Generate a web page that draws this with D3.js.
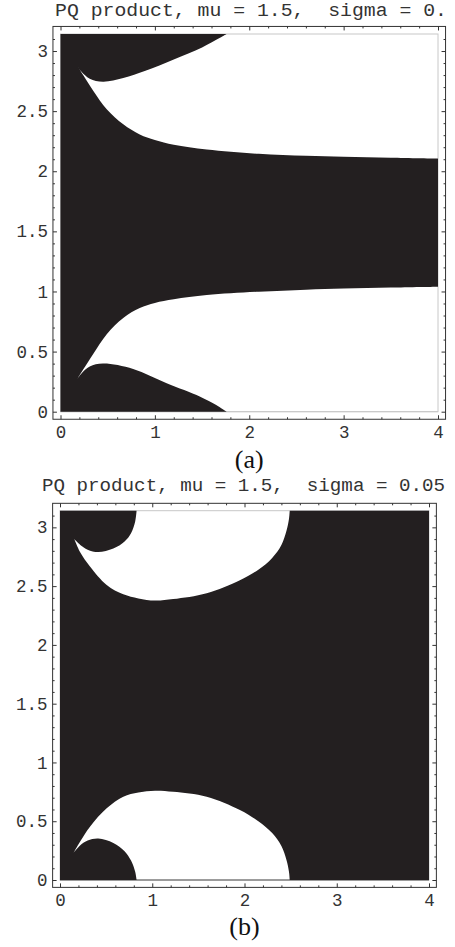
<!DOCTYPE html>
<html><head><meta charset="utf-8">
<script src="https://cdn.jsdelivr.net/npm/d3@7"></script>
<style>body{margin:0;background:#fff}svg{display:block}</style>
</head><body>
<script>
// ---------- data ----------
const titles = ["PQ product, mu = 1.5,  sigma = 0.", "PQ product, mu = 1.5,  sigma = 0.05"];
const captions = ["(a)", "(b)"];
const xMajor = [0, 1, 2, 3, 4];
const yMajor = [0, 0.5, 1, 1.5, 2, 2.5, 3];
const xDomain = [0, 4];
const yDomain = [0, Math.PI];

// panel (a): white holes in the black region
const aBandUpper = [[0.18,2.875],[0.24,2.80],[0.35,2.665],[0.49,2.515],[0.665,2.39],[0.84,2.305],[1.0,2.26],[1.2,2.22],[1.55,2.18],[2.1,2.145],[2.6,2.128],[3.0,2.12],[3.5,2.112],[4.0,2.105]];
const aHornUpper = [[1.76,3.1416],[1.69,3.11],[1.50,3.03],[1.2,2.93],[0.9,2.835],[0.665,2.775],[0.45,2.745],[0.31,2.77],[0.22,2.83],[0.18,2.875]];
const aBandLower = [[0.178,0.272],[0.24,0.35],[0.35,0.485],[0.49,0.645],[0.665,0.78],[0.84,0.862],[1.0,0.905],[1.2,0.935],[1.55,0.97],[2.1,0.998],[2.6,1.015],[3.0,1.025],[3.5,1.033],[4.0,1.04]];
const aHornLower = [[1.76,0],[1.65,0.056],[1.48,0.125],[1.125,0.236],[0.77,0.355],[0.45,0.40],[0.31,0.375],[0.22,0.315],[0.178,0.272]];

// panel (b)
const bOuterUpper = [[0.155,2.90],[0.217,2.79],[0.325,2.667],[0.506,2.51],[0.686,2.43],[0.85,2.395],[1.03,2.377],[1.228,2.39],[1.59,2.44],[1.95,2.55],[2.15,2.64],[2.30,2.74],[2.40,2.85],[2.455,2.97],[2.482,3.07],[2.49,3.1416]];
const bBumpUpper = [[0.83,3.1416],[0.815,3.05],[0.77,2.95],[0.70,2.88],[0.578,2.82],[0.415,2.79],[0.30,2.81],[0.22,2.85],[0.155,2.90]];
const bOuterLower = [[0.144,0.227],[0.217,0.326],[0.325,0.454],[0.506,0.61],[0.686,0.709],[0.85,0.745],[1.03,0.76],[1.228,0.751],[1.59,0.709],[1.95,0.596],[2.15,0.50],[2.30,0.40],[2.40,0.29],[2.455,0.17],[2.482,0.07],[2.49,0]];
const bBumpLower = [[0.83,0],[0.815,0.07],[0.77,0.165],[0.70,0.245],[0.578,0.315],[0.415,0.352],[0.30,0.335],[0.22,0.295],[0.144,0.227]];

// ---------- layout ----------
const W = 455, H = 947;
const panels = [
  {xr:[60.5,438], yr:[411.7,34], titleY:15.5, titleX:55, titleLen:392, capY:468,
   holes:[{a:aBandUpper, corners:[[4,Math.PI]], b:aHornUpper},
          {a:aBandLower, corners:[[4,0]], b:aHornLower}], bottomLine:"#c8c8c8"},
  {xr:[60,429], yr:[880,510.7], titleY:491, titleX:42, titleLen:403, capY:935,
   holes:[{a:bOuterUpper, corners:[], b:bBumpUpper},
          {a:bOuterLower, corners:[], b:bBumpLower}], bottomLine:"#555"}
];

const svg = d3.select("body").append("svg").attr("width", W).attr("height", H);
const mono = "'Liberation Mono','DejaVu Sans Mono',monospace";
const xMinor = d3.range(0, 4.0001, 0.2).filter(v => Math.abs(v - Math.round(v)) > 1e-6);
const yMinor = d3.range(0, 3.1001, 0.1).filter(v => Math.abs(v*2 - Math.round(v*2)) > 1e-6);

panels.forEach((p, i) => {
  const x = d3.scaleLinear().domain(xDomain).range(p.xr);
  const y = d3.scaleLinear().domain(yDomain).range(p.yr);
  const px = (xDomain[1]-xDomain[0])*0.02, py = (yDomain[1]-yDomain[0])*0.02;
  const fx0 = x(xDomain[0]-px), fx1 = x(xDomain[1]+px);
  const fy0 = y(yDomain[1]+py), fy1 = y(yDomain[0]-py);
  const g = svg.append("g");

  // light outline of the plot region (visible only where region is white)
  g.append("rect").attr("x", x(0)).attr("y", y(Math.PI))
    .attr("width", x(4)-x(0)).attr("height", y(0)-y(Math.PI))
    .attr("fill","none").attr("stroke","#c8c8c8").attr("stroke-width",1);
  g.append("line").attr("x1",x(0)).attr("x2",x(4)).attr("y1",y(0)).attr("y2",y(0))
    .attr("stroke",p.bottomLine).attr("stroke-width",1);

  const line = d3.line().x(d => x(d[0])).y(d => y(d[1])).curve(d3.curveCatmullRom.alpha(0.5));
  let d = `M${x(0)},${y(0)}H${x(4)}V${y(Math.PI)}H${x(0)}Z`;
  p.holes.forEach(h => {
    let s = line(h.a);
    h.corners.forEach(c => { s += `L${x(c[0])},${y(c[1])}`; });
    s += line(h.b).replace(/^M/, "L") + "Z";
    d += s;
  });
  g.append("path").attr("d", d).attr("fill", "#231f20").attr("fill-rule", "evenodd");

  // frame
  g.append("rect").attr("x", fx0).attr("y", fy0).attr("width", fx1-fx0).attr("height", fy1-fy0)
    .attr("fill","none").attr("stroke","#333").attr("stroke-width",1);

  const fmt = d3.format("~g");
  const styleAxis = sel => {
    sel.select(".domain").remove();
    sel.selectAll("line").attr("stroke","#333");
    sel.selectAll("text").attr("fill","#333").style("font-family", mono).style("font-size","17.5px");
  };
  // bottom
  g.append("g").attr("transform",`translate(0,${fy1})`)
    .call(d3.axisBottom(x).tickValues(xMajor).tickSize(-4).tickPadding(6).tickFormat(fmt)).call(styleAxis);
  g.append("g").attr("transform",`translate(0,${fy1})`)
    .call(d3.axisBottom(x).tickValues(xMinor).tickSize(-2).tickFormat("")).call(styleAxis);
  // top
  g.append("g").attr("transform",`translate(0,${fy0})`)
    .call(d3.axisTop(x).tickValues(xMajor).tickSize(-4).tickFormat("")).call(styleAxis);
  g.append("g").attr("transform",`translate(0,${fy0})`)
    .call(d3.axisTop(x).tickValues(xMinor).tickSize(-2).tickFormat("")).call(styleAxis);
  // left
  g.append("g").attr("transform",`translate(${fx0},0)`)
    .call(d3.axisLeft(y).tickValues(yMajor).tickSize(-4).tickPadding(5).tickFormat(fmt)).call(styleAxis);
  g.append("g").attr("transform",`translate(${fx0},0)`)
    .call(d3.axisLeft(y).tickValues(yMinor).tickSize(-2).tickFormat("")).call(styleAxis);
  // right
  g.append("g").attr("transform",`translate(${fx1},0)`)
    .call(d3.axisRight(y).tickValues(yMajor).tickSize(-4).tickFormat("")).call(styleAxis);
  g.append("g").attr("transform",`translate(${fx1},0)`)
    .call(d3.axisRight(y).tickValues(yMinor).tickSize(-2).tickFormat("")).call(styleAxis);

  // title
  g.append("text").attr("x", p.titleX).attr("y", p.titleY)
    .attr("textLength", p.titleLen).attr("lengthAdjust","spacingAndGlyphs")
    .attr("xml:space","preserve").style("white-space","pre")
    .style("font-family", mono).style("font-size","17.5px").attr("fill","#333")
    .text(titles[i]);
  // caption
  g.append("text").attr("x", (fx0+fx1)/2).attr("y", p.capY).attr("text-anchor","middle")
    .style("font-family","'Liberation Serif','DejaVu Serif',serif").style("font-size","26px").attr("fill","#111")
    .text(captions[i]);
});
</script>
</body></html>
